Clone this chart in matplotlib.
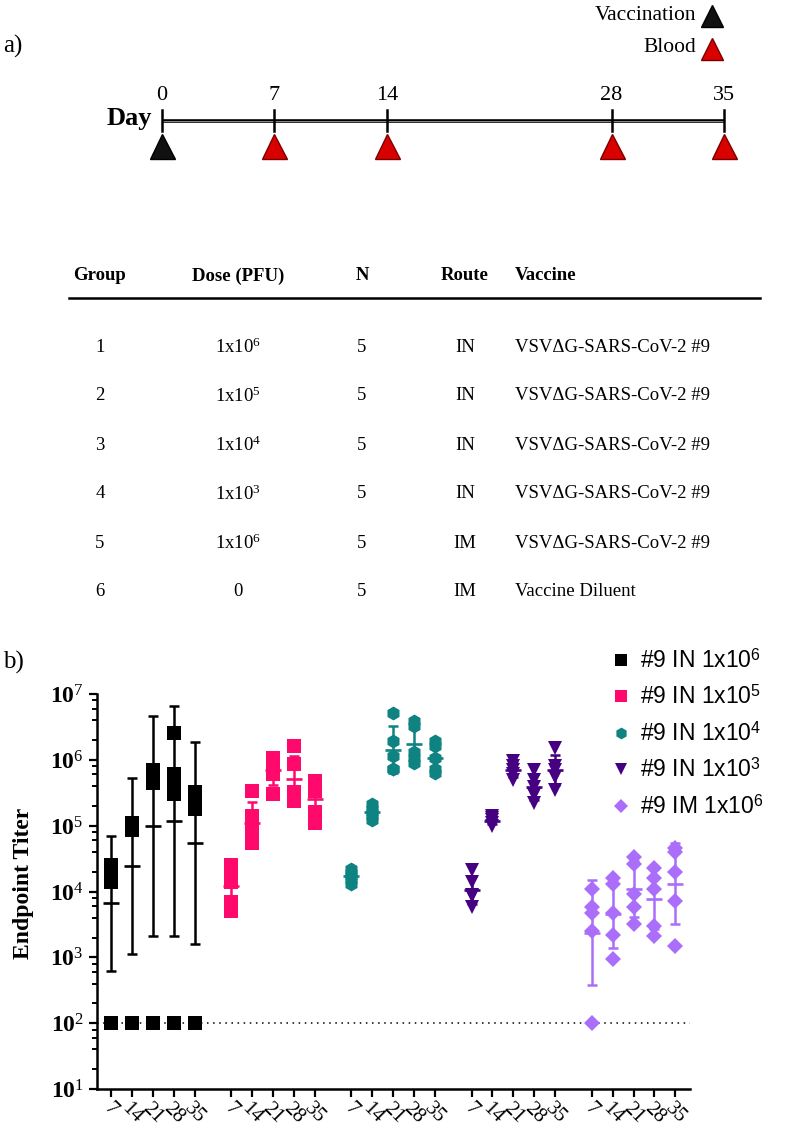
import numpy as np
import matplotlib
matplotlib.use('Agg')
import matplotlib.pyplot as plt
from matplotlib.ticker import LogLocator, NullFormatter

plt.rcParams['mathtext.fontset'] = 'custom'
plt.rcParams['mathtext.rm'] = 'Liberation Serif'
plt.rcParams['mathtext.bf'] = 'Liberation Serif:bold'
plt.rcParams['mathtext.sf'] = 'Liberation Sans'
plt.rcParams['mathtext.it'] = 'Liberation Serif:italic'

SERIF = 'Liberation Serif'
SANS = 'Liberation Sans'

# ---------------- data: timeline ----------------
timeline_days = [0, 7, 14, 28, 35]
timeline_kind = ['Vaccination', 'Blood', 'Blood', 'Blood', 'Blood']
kind_colors = {'Vaccination': '#111111', 'Blood': '#D90000'}
kind_edges = {'Vaccination': '#000000', 'Blood': '#7A0000'}

# ---------------- data: table ----------------
table_header = ['Group', 'Dose (PFU)', 'N', 'Route', 'Vaccine']
tbl_group = ['1', '2', '3', '4', '5', '6']
tbl_dose = [r'1x10$^{\mathrm{6}}$', r'1x10$^{\mathrm{5}}$', r'1x10$^{\mathrm{4}}$',
            r'1x10$^{\mathrm{3}}$', r'1x10$^{\mathrm{6}}$', '0']
tbl_n = ['5', '5', '5', '5', '5', '5']
tbl_route = ['IN', 'IN', 'IN', 'IN', 'IM', 'IM']
tbl_vaccine = ['VSVΔG-SARS-CoV-2 #9', 'VSVΔG-SARS-CoV-2 #9', 'VSVΔG-SARS-CoV-2 #9',
               'VSVΔG-SARS-CoV-2 #9', 'VSVΔG-SARS-CoV-2 #9', 'Vaccine Diluent']

# ---------------- data: titers ----------------
days = ['7', '14', '21', '28', '35']
series_labels = [r'#9 IN 1x10$^{\mathsf{6}}$', r'#9 IN 1x10$^{\mathsf{5}}$',
                 r'#9 IN 1x10$^{\mathsf{4}}$', r'#9 IN 1x10$^{\mathsf{3}}$',
                 r'#9 IM 1x10$^{\mathsf{6}}$']
series_colors = ['#000000', '#FF0A6C', '#0F8282', '#460082', '#AA6EFA']
series_markers = ['s', 's', 'h', 'v', 'D']

in_1e6 = [[2.5e4, 2.0e4, 1.8e4, 1.4e4, 100],
          [1.1e5, 1.0e5, 9.3e4, 8.5e4, 100],
          [7.0e5, 6.5e5, 4.5e5, 4.5e5, 100],
          [2.6e6, 6.2e5, 4.5e5, 3.0e5, 100],
          [3.3e5, 3.0e5, 2.8e5, 1.8e5, 100]]
in_1e5 = [[2.5e4, 2.3e4, 1.4e4, 7.0e3, 5.0e3],
          [3.4e5, 1.4e5, 9.0e4, 7.0e4, 5.5e4],
          [1.07e6, 9.3e5, 8.7e5, 6.2e5, 3.0e5],
          [1.6e6, 8.7e5, 3.2e5, 3.2e5, 2.4e5],
          [4.7e5, 4.0e5, 3.4e5, 1.6e5, 1.1e5]]
in_1e4 = [[2.2e4, 1.9e4, 1.7e4, 1.5e4, 1.3e4],
          [2.1e5, 1.8e5, 1.6e5, 1.4e5, 1.2e5],
          [5.1e6, 1.95e6, 1.15e6, 7.2e5, 7.2e5],
          [3.9e6, 3.3e6, 1.3e6, 1.05e6, 9.0e5],
          [1.95e6, 1.6e6, 1.05e6, 7.2e5, 6.3e5]]
in_1e3 = [[2.1e4, 1.4e4, 9.0e3, 8.5e3, 5.8e3],
          [1.4e5, 1.3e5, 1.2e5, 1.1e5, 1.0e5],
          [9.5e5, 8.0e5, 7.0e5, 6.0e5, 5.0e5],
          [7.0e5, 5.0e5, 3.8e5, 2.9e5, 2.2e5],
          [1.5e6, 8.0e5, 7.0e5, 5.5e5, 3.5e5]]
im_1e6 = [[1.1e4, 5.8e3, 4.7e3, 2.5e3, 100],
          [1.6e4, 1.3e4, 4.7e3, 2.2e3, 930],
          [3.3e4, 2.6e4, 9.3e3, 5.9e3, 3.2e3],
          [2.3e4, 1.6e4, 1.1e4, 3.0e3, 2.1e3],
          [4.5e4, 4.0e4, 2.0e4, 7.1e3, 1.5e3]]
series_values = [in_1e6, in_1e5, in_1e4, in_1e3, im_1e6]
limit_of_detection = 100
ytick_exp = [1, 2, 3, 4, 5, 6, 7]

# ---------------- figure ----------------
W, H = 786, 1132
fig = plt.figure(figsize=(W / 100, H / 100), dpi=100)


def fx(x):
    return x / W


def fy(y):
    return 1 - y / H


# pixel overlay for panel a decorations and table
ov = fig.add_axes([0, 0, 1, 1])
ov.set_xlim(0, W)
ov.set_ylim(H, 0)
ov.axis('off')

ov.text(3, 46, 'a)', fontsize=18, family=SERIF, va='center', ha='left')
ov.text(3, 662, 'b)', fontsize=18, family=SERIF, va='center', ha='left')

# legend of timeline
for yy, kind in [(15, 'Vaccination'), (48, 'Blood')]:
    ov.text(696, yy, kind, fontsize=15.5, family=SERIF, ha='right', va='center')
    ov.plot([712], [yy + 1], marker='^', ms=16, color=kind_colors[kind],
            mec=kind_edges[kind], mew=1)

# timeline axes (days on x)
ax_t = fig.add_axes([fx(162), fy(170), fx(724) - fx(162), fy(80) - fy(170)])
ax_t.set_xlim(0, 35)
ax_t.set_ylim(170, 80)
ax_t.axis('off')
ax_t.plot([min(timeline_days), max(timeline_days)], [121, 121], color='black', lw=2.6,
          solid_capstyle='butt', clip_on=False)
ax_t.plot([min(timeline_days), max(timeline_days)], [121, 121], color='#888888', lw=0.7,
          clip_on=False)
for d, kind in zip(timeline_days, timeline_kind):
    ax_t.plot([d, d], [110, 131], color='black', lw=1.8, clip_on=False)
    ax_t.text(d, 95, str(d), fontsize=16, family=SERIF, ha='center', va='center')
    ax_t.plot([d], [146], marker='^', ms=18, color=kind_colors[kind],
              mec=kind_edges[kind], mew=1, clip_on=False)
ax_t.text(-0.6, 118, 'Day', fontsize=19, family=SERIF, weight='bold', ha='right', va='center')

# table
col_x = [100, 238, 362, 465, 515]
col_ha = ['center', 'center', 'center', 'center', 'left']
for cx, ha, h in zip(col_x, col_ha, table_header):
    ov.text(cx, 276, h, fontsize=13.5, family=SERIF, weight='bold', ha=ha, va='center')
ov.plot([69, 760], [298, 298], color='black', lw=1.8)
row_y0, row_dy = 347, 49
for r in range(len(tbl_group)):
    yy = row_y0 + r * row_dy
    cells = [tbl_group[r], tbl_dose[r], tbl_n[r], tbl_route[r], tbl_vaccine[r]]
    for cx, ha, c in zip(col_x, col_ha, cells):
        ov.text(cx, yy, c, fontsize=13.5, family=SERIF, ha=ha, va='center')

# ---------------- titer plot ----------------
ax = fig.add_axes([fx(97), fy(1089), fx(690) - fx(97), fy(694) - fy(1089)])
ax.set_yscale('log')
ax.set_ylim(10, 1e7)
group_gap = 5.75
ax.set_xlim(-0.67, (len(series_values) - 1) * group_gap + len(days) - 1 + 0.7)

ax.axhline(limit_of_detection, color='black', ls=(0, (1, 3)), lw=1.1, zorder=1)

xt = []
handles = []
sizes = {'s': 9.5, 'h': 10.0, 'v': 9.5, 'D': 7.8}
for g, (vals, col, mk, lab) in enumerate(zip(series_values, series_colors,
                                               series_markers, series_labels)):
    for i, d in enumerate(days):
        x = g * group_gap + i
        xt.append(x)
        v = np.array(vals[i], dtype=float)
        h, = ax.plot(np.full(len(v), x), v, ls='none', marker=mk, color=col,
                     ms=sizes[mk], mew=0, zorder=3, label=lab, clip_on=False)
        lg = np.log10(v)
        m = lg.mean()
        s = lg.std(ddof=1)
        gm = 10 ** m
        ax.errorbar([x], [gm], yerr=[[gm - 10 ** (m - s)], [10 ** (m + s) - gm]],
                    fmt='none', ecolor=col, elinewidth=1.8, capsize=3.4, capthick=1.8,
                    zorder=4)
        ax.plot([x], [gm], marker='_', ms=11, mew=1.9, color=col, zorder=4)
    handles.append(h)

ax.set_xticks(xt)
ax.set_xticklabels(days * len(series_values), rotation=-45, ha='center', va='top',
                   fontsize=15, family=SERIF)
ax.set_yticks([10 ** e for e in ytick_exp])
ax.set_yticklabels([r'$\mathbf{10}^{\mathrm{%d}}$' % e for e in ytick_exp],
                   fontsize=17)
ax.yaxis.set_minor_locator(LogLocator(base=10, subs=[2, 4, 6, 8], numticks=20))
ax.yaxis.set_minor_formatter(NullFormatter())
for sp in ['top', 'right']:
    ax.spines[sp].set_visible(False)
for sp in ['left', 'bottom']:
    ax.spines[sp].set_linewidth(1.8)
ax.tick_params(axis='both', which='major', direction='out', length=6, width=1.6)
ax.tick_params(axis='y', which='minor', direction='out', length=3.5, width=1.4)
ax.tick_params(axis='x', which='major', pad=1)
ax.set_ylabel('Endpoint Titer', fontsize=17, family=SERIF, weight='bold')
ax.yaxis.set_label_coords(-0.107, 0.52)

leg = ax.legend(handles, series_labels, loc='upper left',
                bbox_to_anchor=(fx(604), fy(640)), bbox_transform=fig.transFigure,
                frameon=False, prop={'family': SANS, 'size': 16.5},
                handlelength=0.7, handletextpad=0.45, labelspacing=0.55,
                markerscale=0.85, borderaxespad=0)

fig.savefig('out.png', dpi=100)
